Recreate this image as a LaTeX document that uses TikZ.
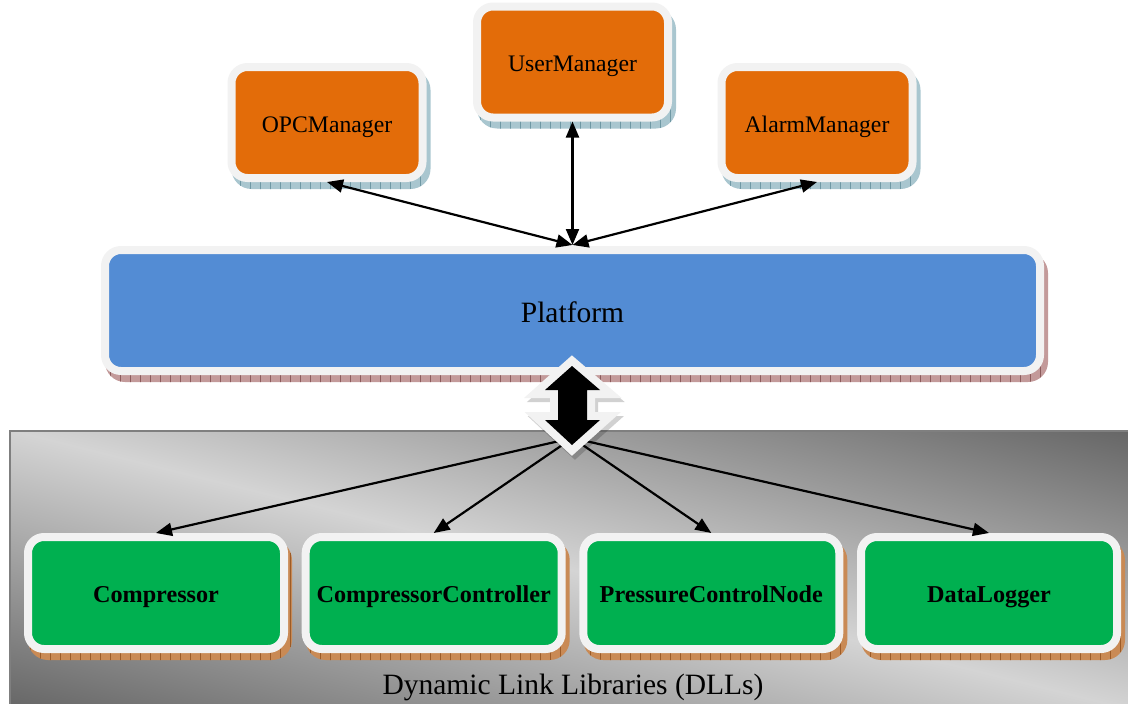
\documentclass[tikz,border=0pt]{standalone}
\usepackage{fontspec}
\setmainfont{Liberation Serif}
\usetikzlibrary{arrows.meta,patterns.meta}

\definecolor{orangefill}{HTML}{E36C09}
\definecolor{bluefill}{HTML}{538CD4}
\definecolor{greenfill}{HTML}{00B050}
\definecolor{rim}{HTML}{F2F2F2}
\definecolor{shTeal}{HTML}{A9C6CF}
\definecolor{shTealLine}{HTML}{6F98A4}
\definecolor{shRose}{HTML}{C39A9A}
\definecolor{shRoseLine}{HTML}{8C5C5C}
\definecolor{shBrown}{HTML}{C98A55}
\definecolor{shBrownLine}{HTML}{9C5B27}
\definecolor{panelDark}{HTML}{666666}
\definecolor{panelLight}{HTML}{D4D4D4}
\definecolor{panelEdge}{HTML}{7F7F7F}

\pgfdeclarelayer{panel}
\pgfdeclarelayer{plates}
\pgfsetlayers{panel,plates,main}

% shadow plate under a framed box: node name, fill colour, hatch colour
\newcommand\boxshadow[3]{%
  \path[rounded corners=20pt, fill=#2,
        postaction={pattern={Lines[angle=90,distance=10pt,line width=0.6pt]},
                    pattern color=#3}]
    ([shift={(4,7)}]#1.south west) rectangle ([shift={(4,7)}]#1.north east);}

\tikzset{
  box/.style={draw=rim, line width=8pt, rounded corners=16pt, inner sep=0pt,
              align=center, text depth=0pt},
  mgr/.style={box, fill=orangefill, minimum width=191pt, minimum height=111pt,
              text height=19pt, font=\fontsize{23.7}{28}\selectfont},
  lib/.style={box, fill=greenfill, minimum width=256pt, minimum height=112pt,
              text height=19.6pt, font=\fontsize{24.2}{28}\selectfont\bfseries},
  plat/.style={box, fill=bluefill, minimum width=935pt, minimum height=121pt,
               text height=24pt, font=\fontsize{29.5}{34}\selectfont},
  link/.style={line width=2.2pt, black},
  both/.style={link, {Triangle[length=16pt,width=13pt]}-{Triangle[length=16pt,width=13pt]}},
  down/.style={link, -{Triangle[length=16pt,width=13pt]}},
}

\begin{document}
\begin{tikzpicture}[x=1pt,y=-1pt]
\useasboundingbox (0,0) rectangle (1128,704);

% managers
\node[mgr] (opc)   at (327,122.5) {OPCManager};
\node[mgr] (user)  at (572.5,62)  {UserManager};
\node[mgr] (alarm) at (817,122.5) {AlarmManager};

% platform
\node[plat] (platform) at (572.5,310.5) {Platform};

% libraries
\node[lib] (comp) at (156,593)   {Compressor};
\node[lib] (ctrl) at (433.7,593) {CompressorController};
\node[lib] (pcn)  at (711.3,593) {PressureControlNode};
\node[lib] (log)  at (989,593)   {DataLogger};

\node[font=\fontsize{29.5}{34}\selectfont] (dll) at (573,687) {Dynamic Link Libraries (DLLs)};

% library panel: diagonal grey gradient, dark at the top-right and bottom-left
\begin{pgfonlayer}{panel}
  \begin{scope}
    \clip (10,431) rectangle (1134,710);
    \begin{scope}[transform canvas={rotate around={-14:(572,570)}}]
      \shade[top color=panelDark, bottom color=panelDark, middle color=panelLight]
        (-300,300) rectangle (1440,840);
    \end{scope}
  \end{scope}
  \draw[panelEdge, line width=2pt] (1134,431) -- (10,431) -- (10,710);
\end{pgfonlayer}

% shadow plates
\begin{pgfonlayer}{plates}
  \foreach \b in {opc,user,alarm}{\boxshadow{\b}{shTeal}{shTealLine}}
  \boxshadow{platform}{shRose}{shRoseLine}
  \foreach \b in {comp,ctrl,pcn,log}{\boxshadow{\b}{shBrown}{shBrownLine}}
\end{pgfonlayer}

% connectors
\coordinate (hub)  at (572.5,245);
\coordinate (hub2) at (572.5,438);
\draw[both] (opc.south)   -- (hub);
\draw[both] (user.south)  -- (hub);
\draw[both] (alarm.south) -- (hub);
\foreach \b in {comp,ctrl,pcn,log}{\draw[down] (hub2) -- (\b.north);}

% block double arrow between platform and libraries
\path[fill=black, fill opacity=0.18, draw=black, draw opacity=0.18,
      line width=16pt, line join=miter]
  (575,370) -- (603,394) -- (590,394) -- (590,424) -- (603,424) -- (575,449)
  -- (548,424) -- (561,424) -- (561,394) -- (548,394) -- cycle;
\path[preaction={draw=rim, line width=16pt, line join=miter}, fill=black]
  (572,366) -- (600,390) -- (587,390) -- (587,420) -- (600,420) -- (572,445)
  -- (545,420) -- (558,420) -- (558,390) -- (545,390) -- cycle;
\end{tikzpicture}
\end{document}
